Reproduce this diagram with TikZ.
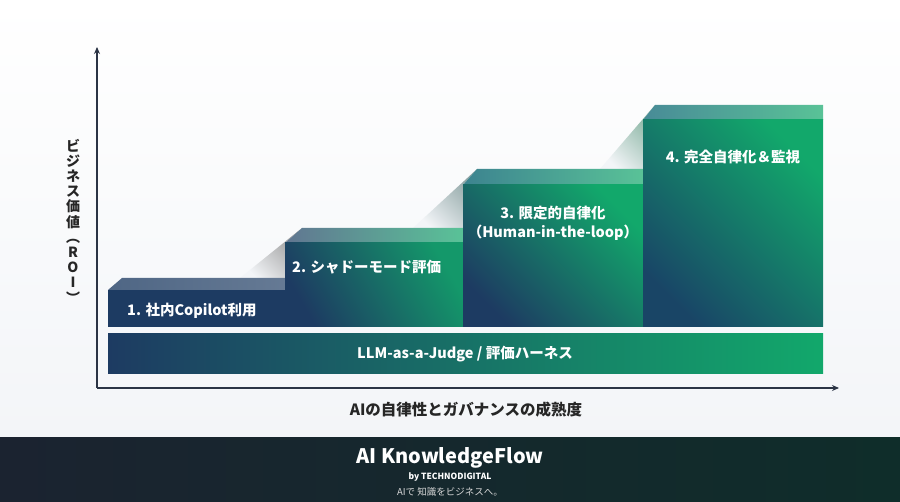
\documentclass[tikz,border=0pt]{standalone}
\usepackage{fontspec}
\setmainfont{Noto Sans CJK JP}
\usetikzlibrary{arrows.meta}

\definecolor{navy}{HTML}{1D3B62}
\definecolor{emerald}{HTML}{12A86B}
\definecolor{axisgray}{HTML}{2B3445}
\definecolor{footdark}{HTML}{1B2330}
\definecolor{footteal}{HTML}{0F2D2A}
\definecolor{paper}{HTML}{F3F5F8}

\tikzset{
  axis/.style={draw=axisgray, line width=1.1pt, -{Stealth[length=7pt,width=6pt]}},
  steplabel/.style={text=white, font=\bfseries\fontsize{14.5}{19}\selectfont, inner sep=0pt},
  axislabel/.style={text=black!85, font=\bfseries\fontsize{15.5}{15.5}\selectfont, inner sep=0pt},
}

\begin{document}
\begin{tikzpicture}[x=1pt, y=-1pt]
    % Background and footer
    \shade[top color=white, bottom color=paper] (0,0) rectangle (900,438);
    \shade[left color=footdark, right color=footteal] (0,438) rectangle (900,502);
    \useasboundingbox (0,0) rectangle (900,502);

    % Ramps between steps
    \shade[bottom color=paper, top color=black!40, shading angle=-45] (240,278) -- (302,228) -- (285,243) -- (285,278) -- cycle;
    \shade[bottom color=paper, top color=teal!40!black!45, shading angle=-45] (413,228) -- (477,169) -- (463,185) -- (463,228) -- cycle;
    \shade[bottom color=paper, top color=emerald!60!black!50, shading angle=-45] (600,169) -- (655,105) -- (643,120) -- (643,169) -- cycle;

    % Top faces
    \shade[left color=navy!78!white, right color=navy!68!white] (108,290) -- (122,278) -- (285,278) -- (285,290) -- cycle;
    \shade[left color=navy!70!white, right color=emerald!70!white] (285,243) -- (302,228) -- (463,228) -- (463,243) -- cycle;
    \shade[left color=teal!60!navy!80!white, right color=emerald!70!white] (463,185) -- (477,169) -- (643,169) -- (643,185) -- cycle;
    \shade[left color=teal!60!navy!75!white, right color=emerald!70!white] (643,120) -- (655,105) -- (823,105) -- (823,120) -- cycle;

    % Front faces
    \fill[navy] (108,290) rectangle (285,327);
    \shade[bottom color=navy, middle color=navy!80!emerald, top color=emerald!85!navy, shading angle=-60] (285,243) rectangle (463,327);
    \shade[bottom color=navy, middle color=navy!60!emerald, top color=emerald, shading angle=-45] (463,185) rectangle (643,327);
    \shade[bottom color=navy!85!teal, middle color=navy!55!emerald, top color=emerald, shading angle=-45] (643,120) rectangle (823,327);

    % Harness bar
    \shade[left color=navy, middle color=navy!60!emerald, right color=emerald] (108,334) rectangle (823,374);

    % Step labels
    \node[steplabel, anchor=west] (step1) at (127,311) {1. 社内Copilot利用};
    \node[steplabel, anchor=west] (step2) at (292,267) {2. シャドーモード評価};
    \node[steplabel, align=center] (step3) at (553,223) {3. 限定的自律化\\（Human-in-the-loop）};
    \node[steplabel] (step4) at (733,157) {4. 完全自律化＆監視};
    \node[steplabel] (harness) at (465,354) {LLM-as-a-Judge / 評価ハーネス};

    % Axes
    \coordinate (origin) at (97,388);
    \coordinate (ytip) at (97,47);
    \coordinate (xtip) at (839,388);
    \draw[axis] (origin) -- (ytip);
    \draw[axis] (origin) -- (xtip);

    % Axis labels
    \node[axislabel] (xlabel) at (466,410) {AIの自律性とガバナンスの成熟度};
    \node[axislabel, align=center, font=\bfseries\fontsize{14}{15.2}\selectfont] (ylabel) at (73,221)
        {ビ\\ジ\\ネ\\ス\\価\\値\\︵\\R\\O\\I\\︶};

    % Footer
    \node[text=white, font=\bfseries\fontsize{20}{20}\selectfont] (brand) at (450,458) {AI KnowledgeFlow};
    \node[text=white, font=\bfseries\fontsize{8.5}{8.5}\selectfont] (maker) at (450,477) {by TECHNODIGITAL};
    \node[text=white!85!black, font=\fontsize{9.5}{9.5}\selectfont] (motto) at (450,492) {AIで 知識をビジネスへ。};
\end{tikzpicture}
\end{document}
